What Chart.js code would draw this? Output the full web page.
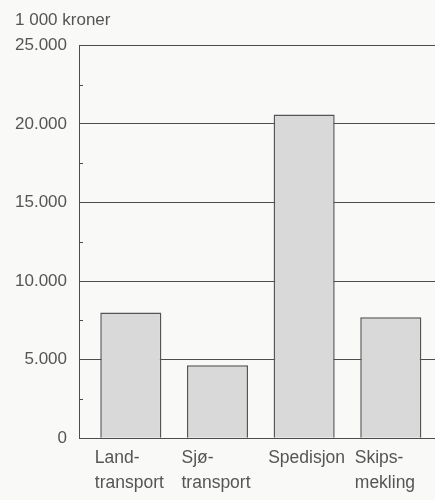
<!DOCTYPE html>
<html>
<head>
<meta charset="utf-8">
<script src="https://cdn.jsdelivr.net/npm/chart.js@4/dist/chart.umd.min.js"></script>
<style>
  html, body { margin: 0; padding: 0; background: #f9f9f8; }
  #wrap { width: 435px; height: 500px; }
</style>
</head>
<body>
<div id="wrap"><canvas id="chart"></canvas></div>
<script>
// data (1 000 kroner)
const categories = [['Land-', 'transport'], ['Sjø-', 'transport'], ['Spedisjon'], ['Skips-', 'mekling']];
const values = [8000, 4650, 20600, 7700];
const yTicks = [0, 5000, 10000, 15000, 20000, 25000];
const unitLabel = '1 000 kroner';

const FONT = '"Liberation Sans", Arial, sans-serif';
const TEXT = '#555555';
const LINE = '#4d4d4d';

// small inner ticks between the major gridlines
const minorTicks = {
  id: 'minorTicks',
  afterDatasetsDraw(chart) {
    const y = chart.scales.y;
    const left = chart.chartArea.left;
    const ctx = chart.ctx;
    ctx.save();
    ctx.strokeStyle = LINE;
    ctx.lineWidth = 1;
    for (let i = 0; i < yTicks.length - 1; i++) {
      const py = Math.round(y.getPixelForValue((yTicks[i] + yTicks[i + 1]) / 2)) + 0.5;
      ctx.beginPath();
      ctx.moveTo(left, py);
      ctx.lineTo(left + 4, py);
      ctx.stroke();
    }
    ctx.restore();
  }
};

new Chart(document.getElementById('chart'), {
  type: 'bar',
  data: {
    datasets: [{
      data: values.map((v, i) => ({ x: i, y: v })),
      backgroundColor: '#d9d9d9',
      borderColor: '#555555',
      borderWidth: 1.5,
      barPercentage: 1,
      categoryPercentage: 0.705
    }]
  },
  options: {
    responsive: true,
    maintainAspectRatio: false,
    animation: false,
    layout: { padding: { left: 15, right: 0, top: 0, bottom: -3 } },
    plugins: {
      legend: { display: false },
      tooltip: { enabled: false },
      title: {
        display: true,
        text: unitLabel,
        align: 'start',
        color: TEXT,
        font: { family: FONT, size: 17, weight: 'normal' },
        padding: { top: 10, bottom: 15 }
      }
    },
    scales: {
      x: {
        type: 'linear',
        offset: false,
        min: -0.598,
        max: 3.51,
        afterFit: (scale) => { scale.paddingLeft = 0; scale.paddingRight = 0; },
        grid: { display: false, drawTicks: false },
        border: { display: true, color: LINE, width: 1 },
        ticks: {
          stepSize: 1,
          includeBounds: false,
          autoSkip: false,
          maxRotation: 0,
          align: 'start',
          labelOffset: -36,
          padding: 7,
          color: TEXT,
          font: { family: FONT, size: 17.5, lineHeight: 1.45 },
          callback: (v) => Number.isInteger(v) && categories[v] ? categories[v] : ''
        }
      },
      y: {
        min: 0,
        max: 25000,
        afterBuildTicks: (scale) => { scale.ticks = yTicks.map(v => ({ value: v })); },
        afterFit: (scale) => { scale.width = 64; },
        grid: { color: LINE, lineWidth: 1, drawTicks: false },
        border: { display: true, color: LINE, width: 1 },
        ticks: {
          padding: 12,
          color: TEXT,
          font: { family: FONT, size: 17 },
          callback: (v) => v === 0 ? '0' : v.toLocaleString('de-DE')
        }
      }
    }
  },
  plugins: [minorTicks]
});
</script>
</body>
</html>
